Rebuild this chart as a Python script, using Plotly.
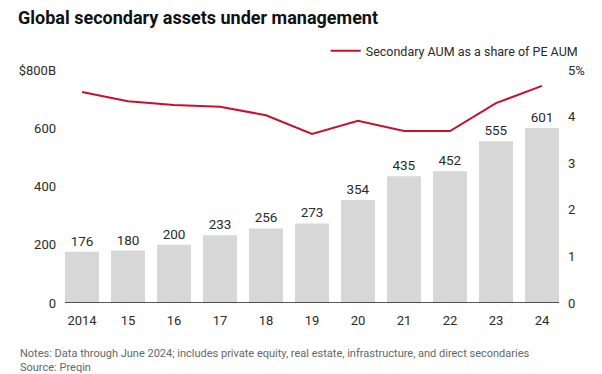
import plotly.graph_objects as go

years = ["2014", "15", "16", "17", "18", "19", "20", "21", "22", "23", "24"]
aum = [176, 180, 200, 233, 256, 273, 354, 435, 452, 555, 601]
share = [4.53, 4.33, 4.25, 4.21, 4.03, 3.63, 3.91, 3.69, 3.69, 4.29, 4.66]

left_ticks = [0, 200, 400, 600, 800]
left_labels = ["0", "200", "400", "600", "$800B"]
right_ticks = [0, 1, 2, 3, 4, 5]
right_labels = ["0", "1", "2", "3", "4", "5%"]

FONT = "Roboto"
TXT = "#2a2a2a"
PH = 233.3  # plot height in px

fig = go.Figure()
fig.add_trace(go.Bar(
    x=years, y=aum, marker_color="#d7d7d7", marker_line_width=0,
    text=aum, textposition="outside", cliponaxis=False,
    textfont=dict(size=13.5, color=TXT, family=FONT),
    showlegend=False, hoverinfo="skip",
))
fig.add_trace(go.Scatter(
    x=years, y=share, yaxis="y2", mode="lines",
    line=dict(color="#c8102e", width=2),
    name="Secondary AUM as a share of PE AUM",
))

fig.update_layout(
    width=602, height=374,
    margin=dict(l=59, r=37, t=70, b=70.7, autoexpand=False),
    paper_bgcolor="white", plot_bgcolor="white",
    font=dict(family=FONT, color=TXT, size=13),
    bargap=0.26,
    title=dict(text="<b>Global secondary assets under management</b>",
               x=18/602, xanchor="left", xref="container",
               y=1-18/374, yanchor="middle", yref="container",
               font=dict(size=18, color="#111", family=FONT)),
    xaxis=dict(type="category", categoryorder="array", categoryarray=years,
               showgrid=False, showline=False, ticks="", ticklen=0,
               ticklabelstandoff=8,
               tickfont=dict(size=13, color=TXT)),
    yaxis=dict(range=[0, 800], tickvals=left_ticks, ticktext=left_labels,
               showgrid=False, zeroline=False, showline=False,
               tickfont=dict(size=13, color=TXT), ticklabelstandoff=2),
    yaxis2=dict(range=[0, 5], tickvals=right_ticks, ticktext=right_labels,
                overlaying="y", side="right", showgrid=False, zeroline=False,
                showline=False, tickfont=dict(size=13, color=TXT),
                ticklabelstandoff=2),
    legend=dict(orientation="h", x=1.035, xanchor="right",
                y=(303.3-51)/PH, yanchor="middle",
                font=dict(size=12.5, color=TXT), itemwidth=30,
                bgcolor="rgba(0,0,0,0)"),
    annotations=[
        dict(text="Notes: Data through June 2024; includes private equity, real estate, infrastructure, and direct secondaries<br>Source: Preqin",
             x=0, xref="paper", xanchor="left", align="left",
             y=-(345-303.3)/PH, yref="paper", yanchor="top", showarrow=False,
             font=dict(size=11, color="#666"), xshift=-41),
    ],
    shapes=[dict(type="line", xref="x", yref="y", x0=-0.37, x1=10.37, y0=0, y1=0,
                 line=dict(color="#222", width=1.5))],
)

fig.write_html("out.html", config={"displayModeBar": False},
               post_script="document.body.style.margin='0';document.body.style.overflow='hidden';")
